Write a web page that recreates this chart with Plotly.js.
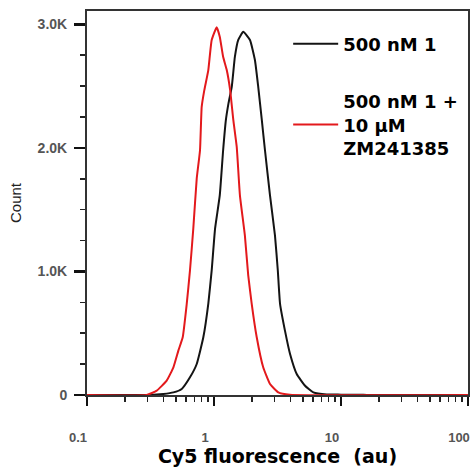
<!DOCTYPE html>
<html>
<head>
<meta charset="utf-8">
<script src="https://cdn.plot.ly/plotly-3.0.1.min.js"></script>
<style>html,body{margin:0;padding:0;background:#fff;}#chart{width:471px;height:473px;}</style>
</head>
<body>
<div id="chart"></div>
<script>
// Fluorescence (au) and counts
const blackX = [0.1, 0.313, 0.399, 0.479, 0.557, 0.647, 0.731, 0.824, 0.902, 0.959, 1.02, 1.11, 1.18, 1.24, 1.30, 1.38, 1.46, 1.55, 1.70, 1.92, 2.10, 2.23, 2.38, 2.52, 2.76, 3.02, 3.18, 3.31, 3.62, 3.97, 4.48, 5.21, 6.06, 7.71, 10.0, 14.1, 16.0, 100];
const blackY = [0, 0, 8, 21, 49, 143, 251, 467, 740, 1008, 1348, 1616, 1981, 2224, 2360, 2494, 2737, 2873, 2940, 2873, 2711, 2494, 2224, 1981, 1616, 1292, 1008, 740, 521, 332, 170, 75, 21, 4, 3, 2, 0, 0];
const redX = [0.1, 0.295, 0.354, 0.424, 0.479, 0.524, 0.567, 0.610, 0.647, 0.687, 0.731, 0.776, 0.800, 0.839, 0.902, 0.959, 1.05, 1.11, 1.18, 1.26, 1.34, 1.42, 1.51, 1.60, 1.75, 1.86, 1.98, 2.17, 2.44, 2.76, 3.21, 3.96, 100];
const redY = [0, 0, 35, 116, 224, 359, 467, 738, 1008, 1346, 1751, 1981, 2332, 2467, 2630, 2873, 2976, 2900, 2737, 2630, 2467, 2224, 2008, 1616, 1292, 968, 740, 467, 224, 89, 21, 2, 0];
const seriesNames = ["500 nM 1", "500 nM 1 +<br>10 µM<br>ZM241385"];
const yTickVals = [0, 1000, 2000, 3000];
const yTickText = ["0", "1.0K", "2.0K", "3.0K"];
const xTickVals = [0.1, 1, 10, 100];
const xTickText = ["0.1", "1", "10", "100"];

const traces = [
  {x: blackX, y: blackY, type: 'scatter', mode: 'lines', name: seriesNames[0], legendgroup: 'a',
   line: {color: '#141414', width: 2, shape: 'spline', smoothing: 0.4}},
  {x: redX, y: redY, type: 'scatter', mode: 'lines', name: seriesNames[1], legendgroup: 'b',
   line: {color: '#e3191c', width: 2, shape: 'spline', smoothing: 0.4}}
];

const layout = {
  width: 471, height: 473,
  margin: {l: 87, r: 3, t: 11, b: 78},
  paper_bgcolor: '#fff', plot_bgcolor: '#fff',
  font: {family: 'Liberation Sans, Arial, sans-serif', color: '#222'},
  showlegend: true,
  legend: {x: 0.528, y: 0.962, xanchor: 'left', yanchor: 'top', bgcolor: 'rgba(0,0,0,0)',
           font: {family: 'DejaVu Sans, sans-serif', size: 18, color: '#000', weight: 'bold'},
           tracegroupgap: 31, valign: 'middle', itemwidth: 45},
  xaxis: {
    type: 'log', range: [-1, 2], showgrid: false, zeroline: false,
    showline: true, linecolor: '#333', linewidth: 2, mirror: true,
    ticks: 'outside', ticklen: 9, tickwidth: 2.5, tickcolor: '#111',
    tickvals: xTickVals, ticktext: xTickText, ticklabeloverflow: 'allow',
    tickfont: {size: 13, color: '#555', weight: 'bold'}, ticklabelstandoff: 20, ticklabelshift: -9,
    minor: {ticks: 'outside', ticklen: 5, tickwidth: 1.5, tickcolor: '#222', dtick: 'D1', showgrid: false},
    title: {text: 'Cy5 fluorescence  (au)', font: {family: 'DejaVu Sans, sans-serif', size: 19, color: '#000', weight: 'bold'}, standoff: 4}
  },
  yaxis: {
    range: [0, 3108], showgrid: false, zeroline: false,
    showline: true, linecolor: '#333', linewidth: 2, mirror: true,
    ticks: 'outside', ticklen: 11, tickwidth: 2.5, tickcolor: '#111',
    tickvals: yTickVals, ticktext: yTickText,
    tickfont: {size: 14, color: '#555', weight: 'bold'}, ticklabelstandoff: 4,
    minor: {ticks: 'outside', ticklen: 5, tickwidth: 1.5, tickcolor: '#222', dtick: 250, showgrid: false},
    title: {text: 'Count', font: {size: 15, color: '#222'}, standoff: 12}
  }
};

Plotly.newPlot('chart', traces, layout, {displayModeBar: false, staticPlot: true});
</script>
</body>
</html>
